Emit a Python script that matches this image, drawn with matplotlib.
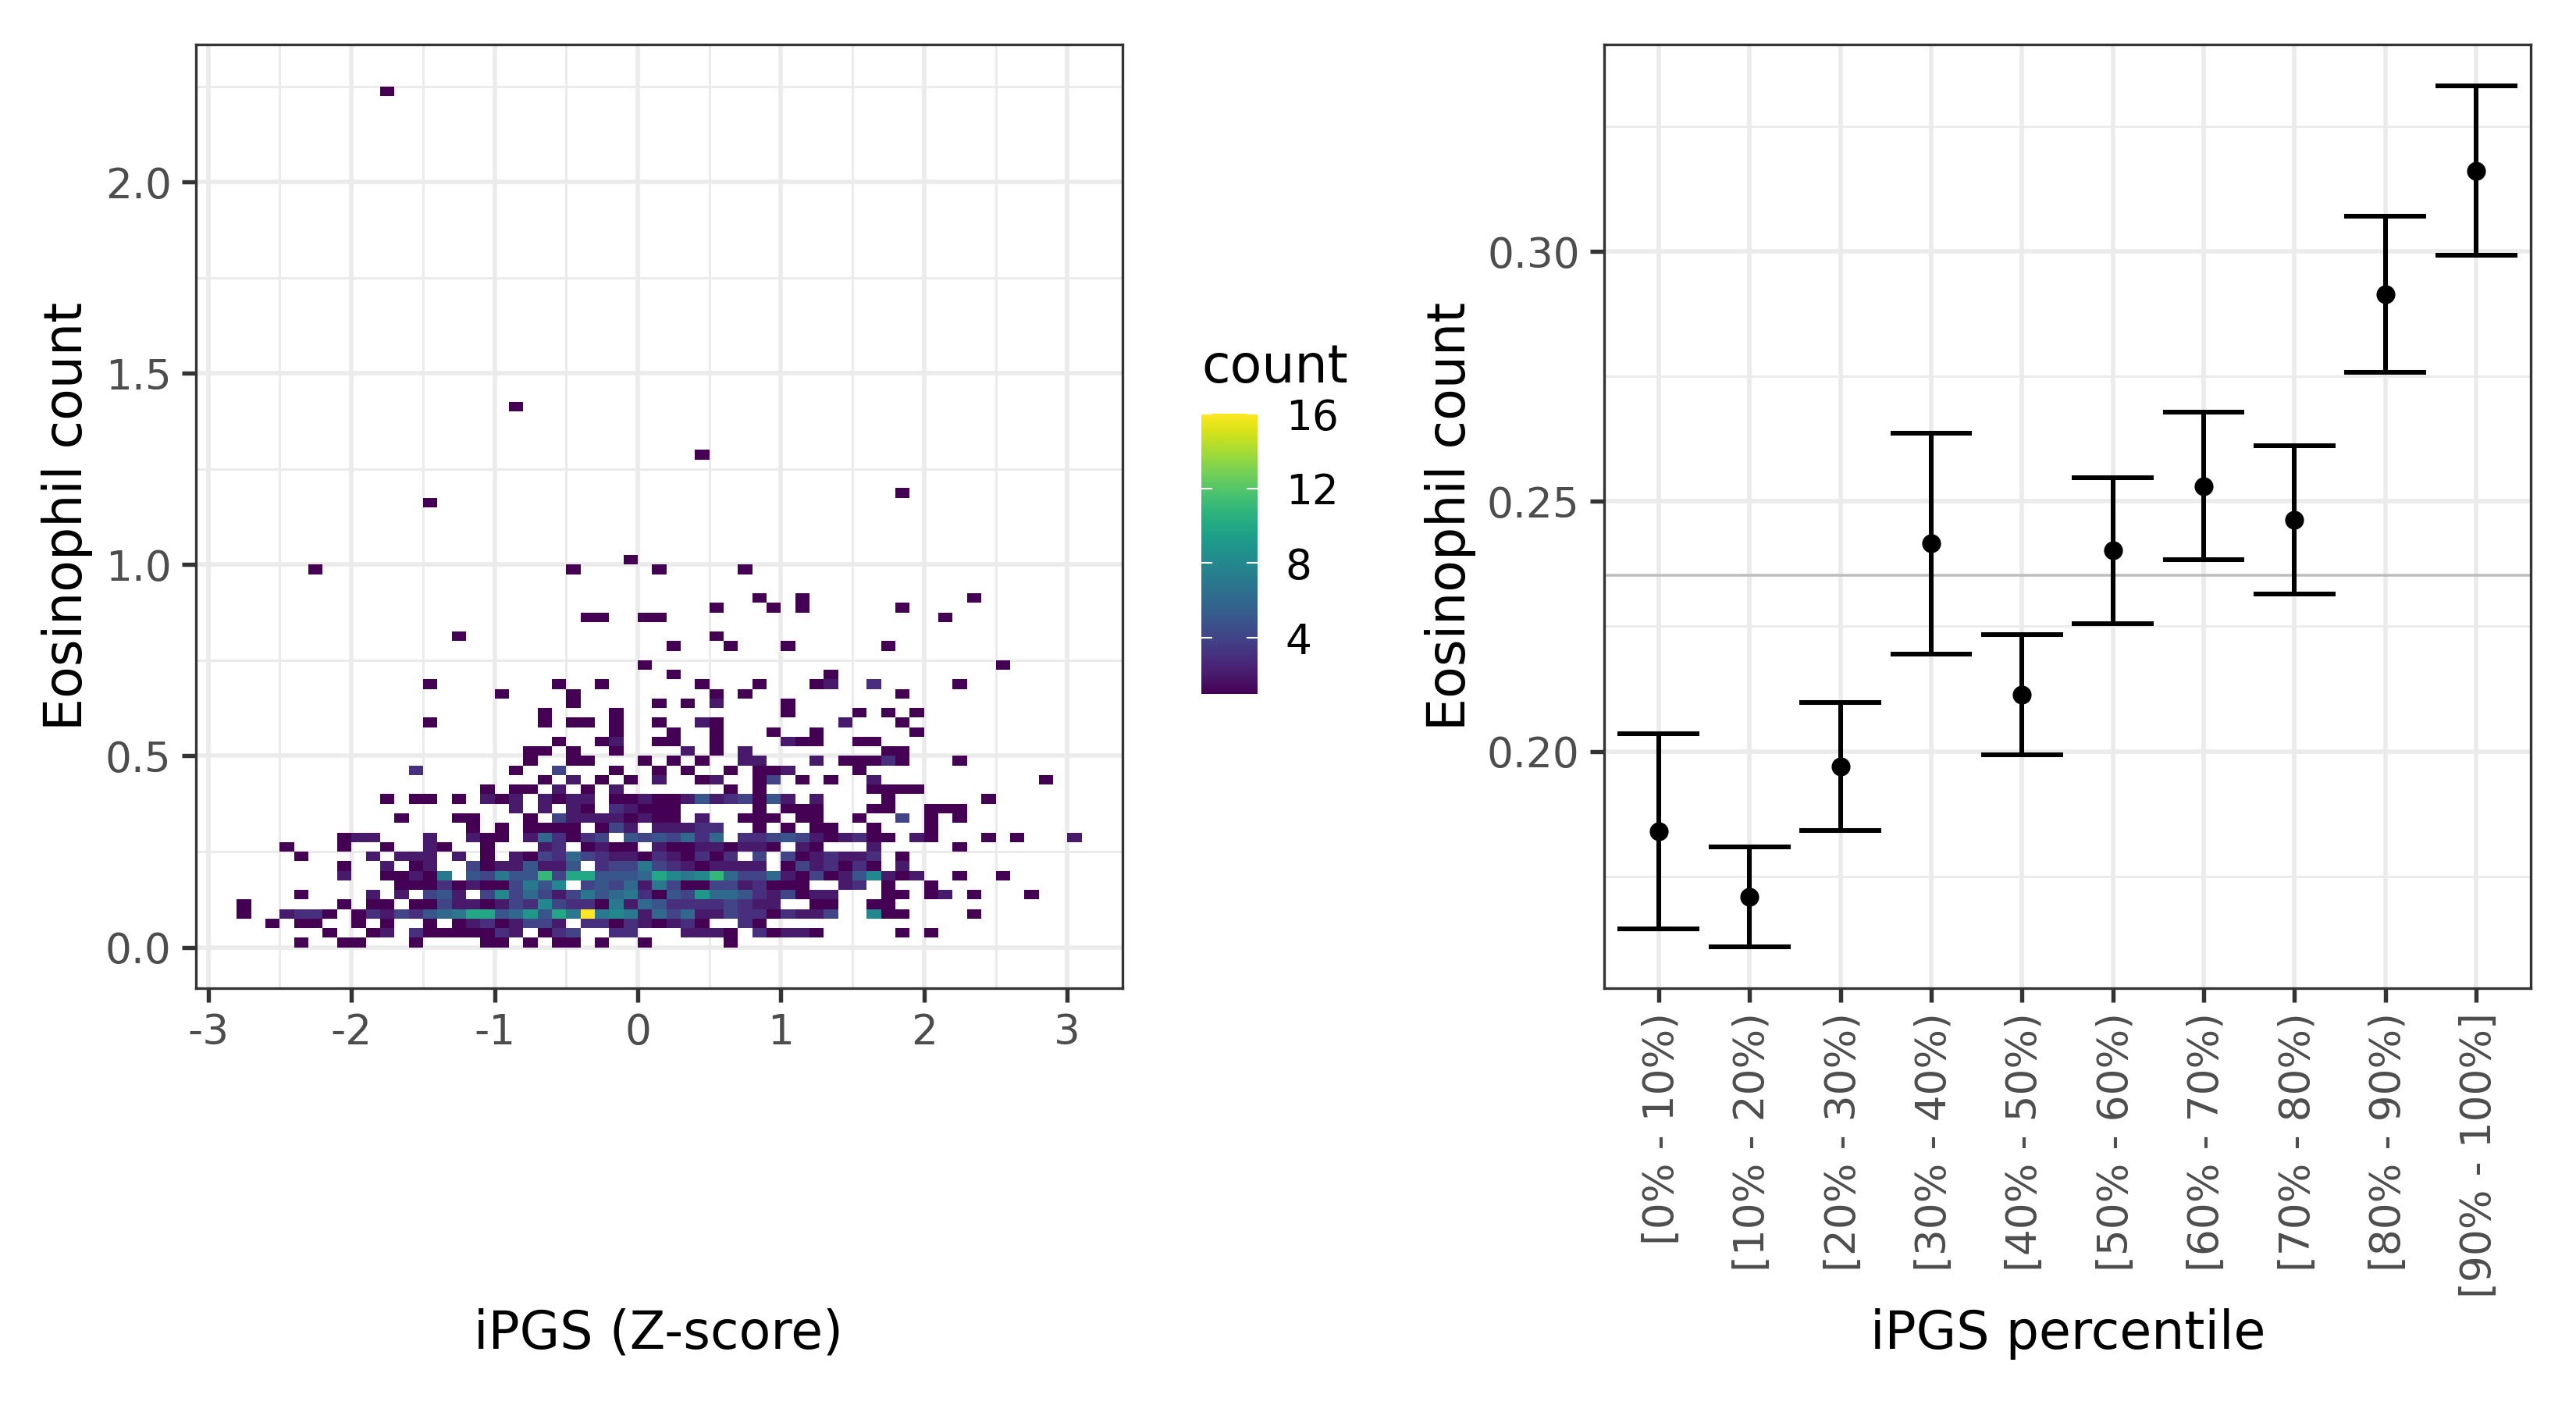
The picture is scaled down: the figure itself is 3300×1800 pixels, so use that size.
import numpy as np
import matplotlib
matplotlib.use("Agg")
import matplotlib.pyplot as plt
from matplotlib.colors import Normalize
from matplotlib.cm import ScalarMappable
from matplotlib.transforms import ScaledTranslation

# ---------- left panel data: 2D-bin counts, {x bin number: count} per y bin ----------
X_BIN_START, X_BIN_WIDTH = -3.0, 0.1
Y_BIN_WIDTH = 0.025
row_00 = {6:1,9:1,10:1,14:1,19:1,20:1,22:1,24:1,25:1,27:1,30:1,36:1}
row_01 = {8:1,11:1,12:2,14:3,15:1,16:1,17:1,18:1,19:1,20:3,21:2,23:1,24:3,25:4,28:3,29:3,33:2,34:2,35:2,36:1,38:3,39:1,40:2,41:2,42:1,48:1,50:1}
row_02 = {4:1,6:1,7:1,10:1,12:1,15:1,17:1,18:2,19:3,20:1,21:2,22:4,23:4,24:2,26:3,27:3,28:1,29:3,30:2,31:1,32:2,33:3,34:1,37:3,38:1}
row_03 = {2:1,5:2,6:3,7:3,8:1,10:1,11:3,12:2,13:4,14:3,15:5,16:6,17:7,18:10,19:10,20:5,21:6,22:9,23:5,24:10,25:7,26:16,27:7,28:8,29:7,30:2,31:6,32:4,33:6,34:2,35:2,36:4,37:3,38:3,39:1,40:3,41:2,42:2,43:4,46:8,47:1,48:1,53:1}
row_04 = {2:1,9:1,11:1,12:1,14:1,15:1,16:4,17:2,18:2,19:1,20:2,21:4,22:3,23:8,24:4,25:3,26:3,27:1,28:7,29:2,30:6,31:5,32:3,33:3,34:3,35:3,36:4,37:3,38:2,39:2,42:1,43:1,46:1,47:1}
row_05 = {6:1,11:2,13:2,15:4,16:5,17:2,19:4,20:8,21:4,22:6,23:4,24:2,25:4,26:7,27:5,28:6,29:7,30:3,31:1,32:5,33:4,34:9,35:6,36:6,37:5,38:3,39:2,40:4,41:1,42:2,43:2,47:1,48:1,50:1,51:2,53:1,57:1}
row_06 = {13:1,14:1,15:1,16:3,17:1,18:2,19:1,20:1,21:4,22:7,23:5,24:8,26:4,27:5,28:4,29:6,30:2,31:7,32:4,33:1,34:1,35:4,36:4,37:2,38:3,39:1,40:1,41:1,44:2,45:3,47:1,50:1}
row_07 = {9:2,12:1,13:1,14:2,15:1,16:7,18:5,19:4,20:7,21:5,22:5,23:11,24:4,25:10,26:10,27:5,28:5,29:5,30:6,31:10,32:8,33:7,34:8,35:11,36:6,37:4,38:4,39:6,40:2,41:1,42:4,43:1,44:2,45:5,46:8,47:2,48:1,49:2,52:1,55:1}
row_08 = {9:1,12:2,14:1,15:2,18:4,19:1,20:2,21:2,22:5,23:2,24:2,25:5,27:3,28:4,29:4,30:7,31:4,32:3,33:2,34:1,35:2,36:2,37:2,38:2,40:1,41:4,42:2,43:3,44:1,45:3,46:1,48:2}
row_09 = {6:1,11:2,13:2,14:2,15:2,17:2,19:1,21:2,22:1,23:4,24:3,25:6,26:4,27:3,28:2,29:2,30:1,31:3,32:2,33:1,34:3,35:1,36:3,38:4,40:4,41:1,42:2,43:3,44:2,45:2,46:3,48:1}
row_10 = {5:1,9:1,12:1,15:2,16:1,19:1,23:2,24:3,26:1,27:2,28:1,29:1,31:2,32:1,33:1,34:2,35:2,36:1,37:2,38:2,39:1,41:2,42:1,46:2,52:1}
row_11 = {9:1,10:2,11:2,15:2,18:2,19:1,20:1,22:2,23:6,24:3,25:1,26:3,27:4,29:5,30:4,31:5,32:4,33:6,34:3,35:6,37:3,38:3,39:4,40:5,41:4,42:2,43:1,44:2,45:3,46:1,47:1,49:2,50:1,54:1,56:1,60:2}
row_12 = {18:1,20:1,22:1,23:1,24:1,25:1,27:1,28:4,29:2,31:2,32:2,33:2,34:3,35:3,38:1,40:1,42:1,43:1,46:1,50:1}
row_13 = {13:1,17:1,18:1,22:1,24:4,25:2,26:2,27:2,28:2,29:1,30:2,31:1,32:1,34:2,37:1,38:1,39:1,41:1,42:1,45:1,48:4,50:1,52:1}
row_14 = {21:2,23:2,25:2,26:1,28:3,29:2,30:1,31:1,32:1,38:1,40:1,41:1,42:1,46:1,47:1,50:1,51:1,52:1}
row_15 = {12:1,14:1,15:1,17:1,19:2,20:1,21:2,23:2,24:1,25:2,26:2,28:1,29:1,30:2,31:1,32:1,33:2,34:5,35:2,36:3,37:4,38:1,39:5,40:2,42:2,47:1,54:1}
row_16 = {19:1,21:1,22:1,24:2,26:1,28:2,36:1,38:1,46:1,47:1,48:1,49:1}
row_17 = {23:1,25:2,27:1,29:1,31:2,34:1,35:2,38:1,39:4,41:1,43:1,46:2,58:1}
row_18 = {14:3,21:1,24:4,28:1,31:1,33:1,36:1,38:1,39:1,40:2,45:1}
row_19 = {22:1,25:1,26:1,30:1,32:1,34:1,37:2,38:2,42:2,44:1,45:1,46:1,47:3,48:1,52:1}
row_20 = {22:1,23:1,25:1,28:1,33:2,35:1,37:2,47:1,48:1}
row_21 = {24:1,27:1,28:2,31:1,32:1,35:1,40:2,41:1,42:1,45:1,46:1}
row_22 = {28:1,32:1,35:1,39:1,42:1,49:1}
row_23 = {15:1,23:1,25:1,26:1,28:1,31:1,34:2,35:1,44:2,48:1}
row_24 = {23:1,28:1,40:1,45:1,47:1,49:1}
row_25 = {25:1,31:1,33:1,35:2,40:1}
row_26 = {20:1,25:1,35:1,37:1,48:1}
row_27 = {15:1,24:1,27:1,34:1,38:1,42:1,43:2,46:3,52:1}
row_28 = {32:1,43:1}
row_29 = {30:1,55:1}
row_31 = {32:1,36:1,40:1,47:1}
row_32 = {17:1,35:1}
row_34 = {26:1,27:1,30:1,31:1,51:1}
row_35 = {35:1,39:1,41:1,48:1}
row_36 = {38:1,41:1,53:1}
row_39 = {7:1,25:1,31:1,37:1}
row_40 = {29:1}
row_46 = {15:1}
row_47 = {48:1}
row_51 = {34:1}
row_56 = {21:1}
row_89 = {12:1}
y_bins = {0:row_00,1:row_01,2:row_02,3:row_03,4:row_04,5:row_05,6:row_06,7:row_07,8:row_08,9:row_09,
          10:row_10,11:row_11,12:row_12,13:row_13,14:row_14,15:row_15,16:row_16,17:row_17,18:row_18,19:row_19,
          20:row_20,21:row_21,22:row_22,23:row_23,24:row_24,25:row_25,26:row_26,27:row_27,28:row_28,29:row_29,
          31:row_31,32:row_32,34:row_34,35:row_35,36:row_36,39:row_39,40:row_40,46:row_46,47:row_47,51:row_51,
          56:row_56,89:row_89}

# ---------- right panel data ----------
percentile_labels = ["[0% - 10%)","[10% - 20%)","[20% - 30%)","[30% - 40%)","[40% - 50%)",
                     "[50% - 60%)","[60% - 70%)","[70% - 80%)","[80% - 90%)","[90% - 100%]"]
means = [0.1840,0.1708,0.1969,0.2416,0.2114,0.2402,0.2531,0.2463,0.2914,0.3162]
ci_low = [0.1645,0.1609,0.1841,0.2195,0.1993,0.2256,0.2384,0.2315,0.2758,0.2993]
ci_high = [0.2035,0.1808,0.2097,0.2637,0.2234,0.2547,0.2678,0.2612,0.3071,0.3331]
overall_mean = 0.2352

# ---------- style ----------
W, H = 3300, 1800
plt.rcParams["font.family"] = "DejaVu Sans"
fig = plt.figure(figsize=(11, 6), dpi=300)
def rect(l, t, r, b):
    return [l / W, 1 - b / H, (r - l) / W, (b - t) / H]

GRID = "#ebebeb"
def style(ax):
    ax.set_axisbelow(True)
    ax.grid(which="major", color=GRID, lw=1.35)
    ax.grid(which="minor", color=GRID, lw=0.7)
    ax.tick_params(which="major", length=4.3, width=1.3, color="#333333",
                   labelcolor="#4d4d4d", labelsize=12.8, pad=3.2)
    ax.tick_params(which="minor", length=0)
    for s in ax.spines.values():
        s.set_color("#333333")
        s.set_linewidth(0.8)

# ---------- left panel ----------
ax1 = fig.add_axes(rect(251, 57.3, 1438, 1266))
nx, ny = 62, 91
grid_counts = np.full((ny, nx), np.nan)
for r, cols in y_bins.items():
    for c, v in cols.items():
        grid_counts[r, c] = v
xe = X_BIN_START + X_BIN_WIDTH * np.arange(nx + 1)
ye = Y_BIN_WIDTH * np.arange(ny + 1)
norm = Normalize(1, 16)
ax1.pcolormesh(xe, ye, np.ma.masked_invalid(grid_counts), cmap="viridis", norm=norm,
               linewidth=0, antialiased=True, zorder=2)
ax1.set_xlim(-3.086, 3.386)
ax1.set_ylim(-0.107, 2.359)
ax1.set_xticks([-3, -2, -1, 0, 1, 2, 3], ["-3", "-2", "-1", "0", "1", "2", "3"])
ax1.set_xticks(np.arange(-2.5, 3, 1), minor=True)
ax1.set_yticks([0, 0.5, 1, 1.5, 2], ["0.0", "0.5", "1.0", "1.5", "2.0"])
ax1.set_yticks([0.25, 0.75, 1.25, 1.75, 2.25], minor=True)
style(ax1)
ax1.set_xlabel("iPGS (Z-score)", fontsize=16, color="black")
ax1.set_ylabel("Eosinophil count", fontsize=16, color="black")
ax1.xaxis.set_label_coords(844 / W, 1 - 1709 / H, transform=fig.transFigure)
ax1.xaxis.label.set_va("center")
ax1.yaxis.set_label_coords(86 / W, 1 - 661 / H, transform=fig.transFigure)
ax1.yaxis.label.set_va("center")

# ---------- colour bar ----------
cax = fig.add_axes(rect(1539, 530, 1611, 889))
cb = fig.colorbar(ScalarMappable(norm=norm, cmap="viridis"), cax=cax)
cb.outline.set_visible(False)
cb.set_ticks([4, 8, 12, 16], labels=["4", "8", "12", "16"])
cax.tick_params(axis="y", which="both", left=True, right=True, direction="in", length=3.4,
                width=0.5, color="white", labelcolor="black", labelsize=12.8, pad=8.6)
fig.text(1539 / W, 1 - 490 / H, "count", fontsize=16, color="black", ha="left", va="baseline")

# ---------- right panel ----------
ax2 = fig.add_axes(rect(2055, 57.3, 3242, 1266))
pos = np.arange(1, 11)
ax2.axhline(overall_mean, color="#bebebe", lw=0.85, zorder=2)
ax2.vlines(pos, ci_low, ci_high, color="black", lw=1.45, zorder=3)
ax2.hlines(ci_low, pos - 0.45, pos + 0.45, color="black", lw=1.45, zorder=3)
ax2.hlines(ci_high, pos - 0.45, pos + 0.45, color="black", lw=1.45, zorder=3)
ax2.plot(pos, means, "o", color="black", ms=5.8, mew=0, zorder=4)
ax2.set_xlim(0.4, 10.6)
ax2.set_ylim(0.1526, 0.3414)
ax2.set_xticks(pos, percentile_labels, rotation=90)
ax2.set_yticks([0.20, 0.25, 0.30], ["0.20", "0.25", "0.30"])
ax2.set_yticks([0.175, 0.225, 0.275, 0.325], minor=True)
style(ax2)
shift = ScaledTranslation(4 / 300, 0, fig.dpi_scale_trans)
for lab in ax2.get_xticklabels():
    lab.set_transform(lab.get_transform() + shift)
ax2.set_xlabel("iPGS percentile", fontsize=16, color="black")
ax2.set_ylabel("Eosinophil count", fontsize=16, color="black")
ax2.xaxis.set_label_coords(2649 / W, 1 - 1709 / H, transform=fig.transFigure)
ax2.xaxis.label.set_va("center")
ax2.yaxis.set_label_coords(1858 / W, 1 - 661 / H, transform=fig.transFigure)
ax2.yaxis.label.set_va("center")

fig.savefig("out.png", dpi=300, facecolor="white")
